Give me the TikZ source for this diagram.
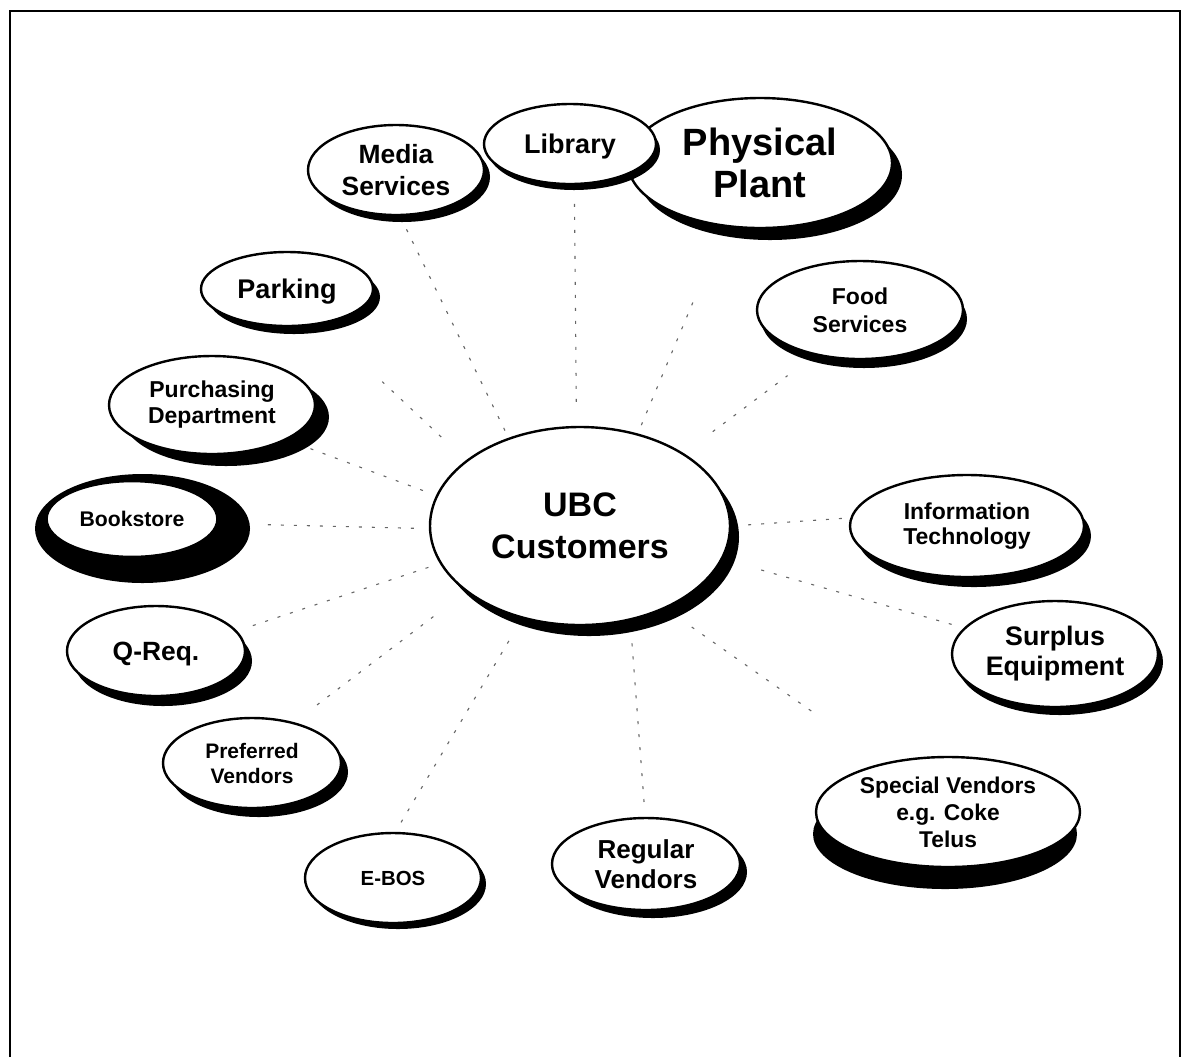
\documentclass[tikz,border=0pt]{standalone}
\usepackage{fontspec}
\setmainfont{Liberation Sans}
\usetikzlibrary{shapes.geometric,shadows}
\newcommand\myfs[2]{\fontsize{#1}{#2}\selectfont\bfseries}
\tikzset{
  bub/.style={ellipse, draw=black, line width=1.2pt, fill=white, inner sep=0pt, align=center},
  sh/.style 2 args={drop shadow={shadow xshift=#1, shadow yshift=#2, opacity=1, fill=black}},
  link/.style={draw=black!60, line width=0.55pt, dash pattern=on 1.5pt off 5pt},
  frame/.style={draw=black, line width=1pt}
}
\begin{document}
\begin{tikzpicture}[x=0.5pt, y=-0.5pt]
\useasboundingbox (0,0) rectangle (1187,1057);
\draw[frame] (10,1057) -- (10,11) -- (1180,11) -- (1180,1057);

% nodes
\node[bub, sh={4.5pt}{-5.5pt}, minimum width=150pt, minimum height=99pt, font=\myfs{17pt}{21pt}] (ubc) at (580,526) {UBC\\Customers};
\node[bub, sh={5pt}{-6pt}, minimum width=132pt, minimum height=65pt, font=\myfs{19pt}{21pt}] (phys) at (760,163) {Physical\\Plant};
\node[bub, sh={3pt}{-3.5pt}, minimum width=88pt, minimum height=45pt, font=\myfs{13.2pt}{16pt}] (media) at (396,170) {Media\\Services};
\node[bub, sh={2pt}{-3pt}, text depth=0pt, minimum width=86pt, minimum height=40pt, font=\myfs{13.5pt}{16pt}] (lib) at (570,144) {Library};
\node[bub, sh={3.5pt}{-4pt}, text depth=0pt, minimum width=86pt, minimum height=37pt, font=\myfs{13.5pt}{16pt}] (park) at (287,289) {Parking};
\node[bub, sh={2pt}{-4.5pt}, minimum width=103pt, minimum height=49pt, font=\myfs{11.5pt}{14pt}] (food) at (860,310) {Food\\Services};
\node[bub, sh={7pt}{-6pt}, minimum width=103pt, minimum height=49pt, font=\myfs{11.5pt}{13pt}] (purch) at (212,405) {Purchasing\\Department};
\fill[black] (142.5,528.5) ellipse [x radius=53.75pt, y radius=27.25pt];
\node[bub, line width=0.8pt, minimum width=85pt, minimum height=37.5pt, font=\myfs{10.6pt}{12pt}] (book) at (132,519) {Bookstore};
\node[bub, sh={3.5pt}{-5pt}, minimum width=117pt, minimum height=51pt, font=\myfs{11.5pt}{12.5pt}] (it) at (967,526) {Information\\Technology};
\node[bub, sh={2.5pt}{-4pt}, minimum width=103pt, minimum height=53pt, font=\myfs{13.4pt}{15pt}] (surp) at (1055,654) {Surplus\\Equipment};
\node[bub, sh={3.5pt}{-5pt}, text depth=0pt, minimum width=89pt, minimum height=45pt, font=\myfs{13.2pt}{16pt}] (qreq) at (156,651) {Q-Req.};
\node[bub, sh={3.5pt}{-4.5pt}, minimum width=89pt, minimum height=45pt, font=\myfs{10.5pt}{12.5pt}] (pref) at (252,763) {Preferred\\Vendors};
\node[bub, sh={2.5pt}{-3pt}, minimum width=88pt, minimum height=45pt, font=\myfs{10.2pt}{12pt}] (ebos) at (393,878) {E-BOS};
\node[bub, sh={3.5pt}{-4pt}, minimum width=94pt, minimum height=46pt, font=\myfs{13pt}{15pt}] (reg) at (646,864) {Regular\\Vendors};
\node[bub, sh={-1.5pt}{-11pt}, inner ysep=-2pt, minimum width=132pt, minimum height=55pt, font=\myfs{11.4pt}{13.5pt}] (spec) at (948,812) {Special Vendors\\e.g. Coke\\Telus};

% connectors
\draw[link, shorten <=4pt, shorten >=5pt] (ubc.129.6) -- (media.275);
\draw[link, shorten <=12pt, shorten >=5.5pt] (ubc.92) -- (lib.276);
\draw[link, shorten <=4.5pt, shorten >=40.5pt] (ubc.58) -- (phys.241);
\draw[link, shorten <=18pt, shorten >=17pt] (ubc.35) -- (food.225);
\draw[link, shorten <=17pt, shorten >=42pt] (ubc.150) -- (park.314);
\draw[link, shorten <=7pt, shorten >=12pt] (ubc.168) -- (purch.335);
\draw[link, shorten <=7.5pt, shorten >=25pt] (ubc.181) -- (book.357.5);
\draw[link, shorten <=6pt, shorten >=5pt] (ubc.195) -- (qreq.14.5);
\draw[link, shorten <=20.5pt, shorten >=10.5pt] (ubc.210.6) -- (pref.44.5);
\draw[link, shorten <=13pt, shorten >=1pt] (ubc.238.4) -- (ebos.87.5);
\draw[link, shorten <=11.5pt, shorten >=2.5pt] (ubc.298) -- (reg.91);
\draw[link, shorten <=16pt, shorten >=42pt] (ubc.316) -- (spec.142);
\draw[link, shorten <=20pt, shorten >=4pt] (ubc.347) -- (surp.164.6);
\draw[link, shorten <=8.5pt, shorten >=2pt] (ubc.0) -- (it.176);
\end{tikzpicture}
\end{document}
